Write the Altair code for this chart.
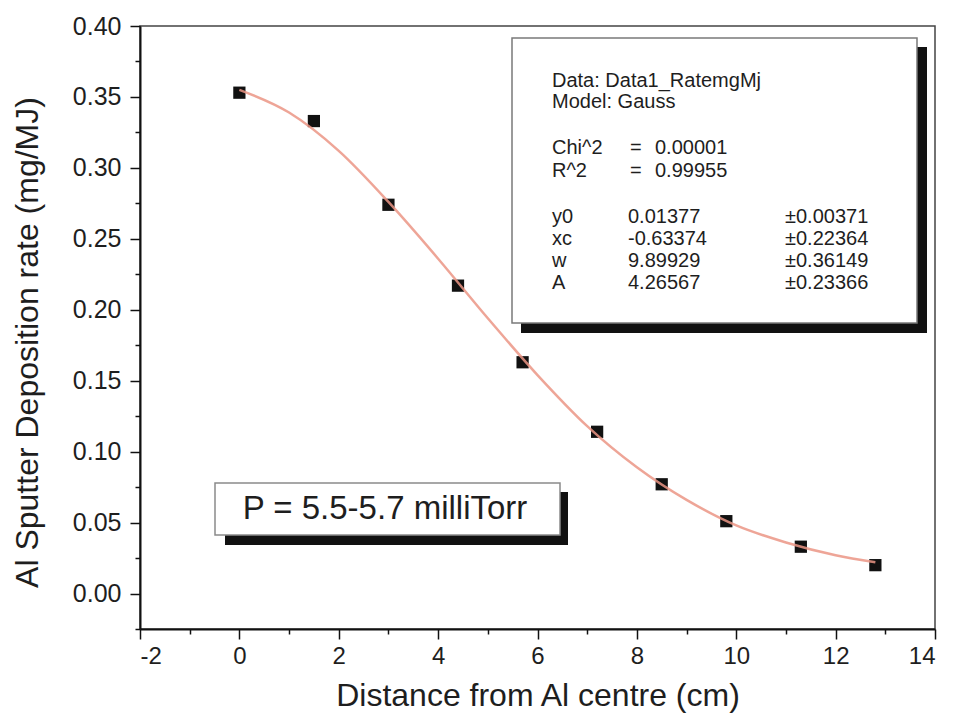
import altair as alt
import pandas as pd

# Measured points (distance from Al centre, deposition rate)
distance_cm = [0.0, 1.5, 3.0, 4.4, 5.7, 7.2, 8.5, 9.8, 11.3, 12.8]
rate_mg_mj = [0.353, 0.333, 0.274, 0.217, 0.163, 0.114, 0.077, 0.051, 0.033, 0.020]

# Fitted Gauss curve
fit_distance = [0.0, 1.0, 2.0, 3.0, 4.0, 5.0, 6.0, 7.0, 8.0, 9.0, 10.0, 11.0, 12.0, 12.8]
fit_rate = [0.355, 0.339, 0.312, 0.276, 0.236, 0.194, 0.154, 0.118, 0.089, 0.066,
            0.048, 0.036, 0.027, 0.022]

# Tick values (major + minor)
x_tick_values = [-2, -1, 0, 1, 2, 3, 4, 5, 6, 7, 8, 9, 10, 11, 12, 13, 14]
y_tick_values = [-0.025, 0.0, 0.025, 0.05, 0.075, 0.10, 0.125, 0.15, 0.175, 0.20,
                 0.225, 0.25, 0.275, 0.30, 0.325, 0.35, 0.375, 0.40]

# Annotation texts
fit_header = ["Data: Data1_RatemgMj", "Model: Gauss"]
fit_stat_names = ["Chi^2", "R^2"]
fit_stat_eq = ["=", "="]
fit_stat_values = ["0.00001", "0.99955"]
param_names = ["y0", "xc", "w", "A"]
param_values = ["0.01377", "-0.63374", "9.89929", "4.26567"]
param_errors = ["±0.00371", "±0.22364", "±0.36149", "±0.23366"]
pressure_label = "P = 5.5-5.7 milliTorr"

FONT = "Liberation Sans"
TXT = "#1e1e1e"

points_df = pd.DataFrame({"x": distance_cm, "y": rate_mg_mj})
fit_df = pd.DataFrame({"x": fit_distance, "y": fit_rate})
one = pd.DataFrame({"k": [0]})

X_MINOR = "datum.value % 2 != 0"
Y_MINOR = "(round(datum.value * 1000) % 50) != 0"

x_enc = alt.X(
    "x:Q",
    scale=alt.Scale(domain=[-2, 14], nice=False, zero=False),
    axis=alt.Axis(
        values=x_tick_values,
        tickCount=100,
        labelOverlap=False,
        labelExpr=f"{X_MINOR} ? '' : '' + datum.value",
        tickDash={"condition": {"test": X_MINOR, "value": [5, 40]}, "value": [30, 1]},
        title="Distance from Al centre (cm)",
        titlePadding=12,
    ),
)
y_enc = alt.Y(
    "y:Q",
    scale=alt.Scale(domain=[-0.025, 0.40], nice=False, zero=False),
    axis=alt.Axis(
        values=y_tick_values,
        tickCount=100,
        format=".2f",
        labelOverlap=False,
        labelFontSize=25,
        labelPadding=9,
        labelExpr=f"{Y_MINOR} ? '' : datum.label",
        tickDash={"condition": {"test": Y_MINOR, "value": [5, 40]}, "value": [30, 1]},
        title="Al Sputter Deposition rate (mg/MJ)",
        titlePadding=28,
        titleY=316,
    ),
)

points = alt.Chart(points_df).mark_square(size=150, color="#111111", opacity=1).encode(
    x=x_enc, y=y_enc
)
fit_line = alt.Chart(fit_df).mark_line(
    color="#eb9585", strokeWidth=2.5, interpolate="monotone", opacity=0.85
).encode(x="x:Q", y="y:Q")


def rect(x, x2, y, y2, fill, stroke=None):
    kw = dict(fill=fill)
    if stroke:
        kw.update(stroke=stroke, strokeWidth=1.5)
    return alt.Chart(one).mark_rect(**kw).encode(
        x=alt.value(x), x2=alt.value(x2), y=alt.value(y), y2=alt.value(y2)
    )


def text_block(lines, x, y, size, lh, align="left"):
    return alt.Chart(one).mark_text(
        text=lines, align=align, baseline="middle", font=FONT, fontSize=size,
        lineHeight=lh, color=TXT
    ).encode(x=alt.value(x), y=alt.value(y))


stats_shadow = rect(381, 787, 21, 307, "#111111")
stats_box = rect(372, 777, 12, 297, "white", "#7a7a7a")
pres_shadow = rect(85, 428, 466, 519, "#111111")
pres_box = rect(75, 420, 457, 509, "white", "#8a8a8a")

SZ = 20
texts = [
    text_block(fit_header, 412, 55, SZ, 21),
    text_block(fit_stat_names, 412, 122, SZ, 23),
    text_block(fit_stat_eq, 490, 122, SZ, 23),
    text_block(fit_stat_values, 515, 122, SZ, 23),
    text_block(param_names, 412, 191, SZ, 22),
    text_block(param_values, 488, 191, SZ, 22),
    text_block(param_errors, 645, 191, SZ, 22),
    text_block([pressure_label], 245, 483, 33, 33, align="center"),
]

chart = alt.layer(
    points, fit_line,
    stats_shadow, stats_box, pres_shadow, pres_box,
    *texts,
).properties(
    width=795, height=603,
    autosize=alt.AutoSizeParams(type="none"),
    padding={"left": 140, "top": 26, "right": 18, "bottom": 86},
    background="white",
).configure_view(
    stroke="#444444", strokeWidth=1.5
).configure_axis(
    grid=False,
    labelFont=FONT, labelFontSize=24, labelColor=TXT, labelPadding=5,
    titleFont=FONT, titleFontSize=32, titleFontWeight="normal", titleColor=TXT,
    domainColor="#111111", domainWidth=2,
    tickColor="#111111", tickWidth=1.5, tickSize=10,
)

chart.save("out.html", embed_options={"renderer": "svg", "actions": False})
